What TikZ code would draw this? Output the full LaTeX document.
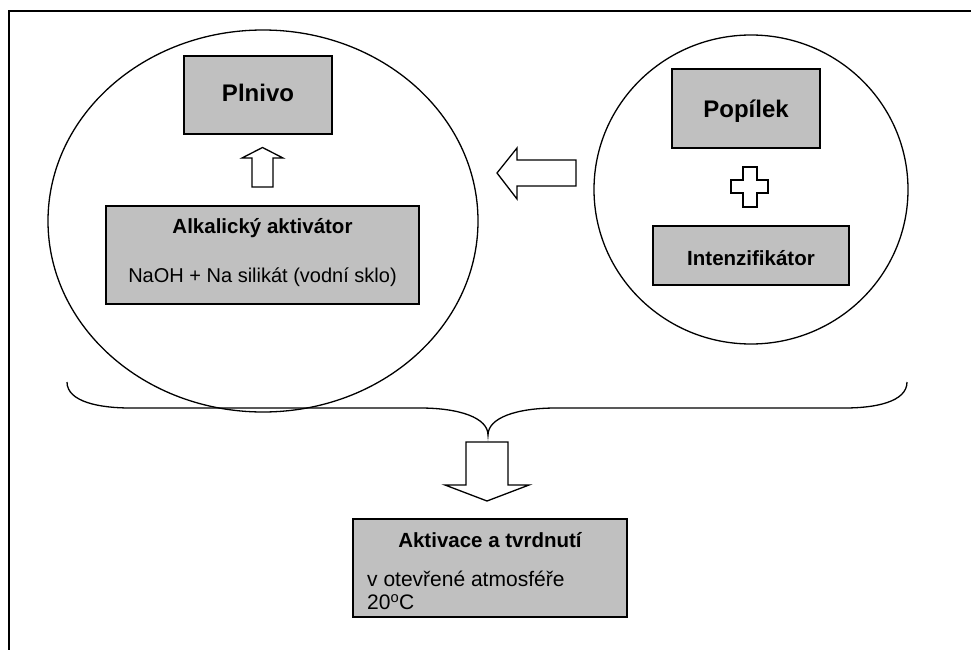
\documentclass[tikz,border=0pt]{standalone}
\usepackage{fontspec}
\setmainfont{Liberation Sans}
\usetikzlibrary{shapes.geometric}
\begin{document}
\begin{tikzpicture}[x=1pt,y=-1pt,
  box/.style={draw=black,line width=1.3pt,fill=boxgray,inner sep=0pt},
  outl/.style={draw=black,line width=1.3pt,fill=white,line join=miter},
  big/.style={font=\fontsize{24}{28}\selectfont\bfseries},
  mid/.style={font=\fontsize{20.5}{24}\selectfont\bfseries},
  reg/.style={font=\fontsize{21}{25}\selectfont}]
\definecolor{boxgray}{HTML}{C0C0C0}
\useasboundingbox (0,0) rectangle (971,650);
% frame (top and left only)
\coordinate (fl) at (9,650);
\coordinate (fc) at (9,11);
\coordinate (fr) at (971,11);
\draw[line width=2pt] (fl) -- (fc) -- (fr);
% ellipses
\node[draw,line width=1.3pt,ellipse,minimum width=430pt,minimum height=382pt,inner sep=0pt] (lell) at (263,221) {};
\node[draw,line width=1.3pt,ellipse,minimum width=314pt,minimum height=309pt,inner sep=0pt] (rell) at (751,189.5) {};
% boxes
\node[box,minimum width=148pt,minimum height=78pt] (plnivo) at (258,95) {};
\node[big] (plnivot) at (258,92.5) {Plnivo};
\node[box,minimum width=313pt,minimum height=98pt] (alk) at (262.5,255) {};
\node[mid] (alkt) at (262.5,228) {Alkalický aktivátor};
\node[reg,font=\fontsize{20}{24}\selectfont] (alks) at (262.5,277) {NaOH + Na silikát (vodní sklo)};
\node[box,minimum width=148pt,minimum height=79pt] (popilek) at (746,108.5) {};
\node[big,text depth=0pt] (popilekt) at (746,108.5) {Popílek};
\node[box,minimum width=196pt,minimum height=59pt] (intenz) at (751,255.5) {};
\node[mid,text depth=0pt] (intenzt) at (751,257.5) {Intenzifikátor};
\node[box,minimum width=274pt,minimum height=98pt] (akt) at (490,568) {};
\node[mid] (aktt) at (490,540) {Aktivace a tvrdnutí};
\node[reg,anchor=west,inner sep=0pt] (akts) at (367,579) {v otevřené atmosféře};
\node[reg,anchor=west,inner sep=0pt] (aktd) at (367,602) {20\textsuperscript{o}C};
% up arrow
\draw[outl] (252,187) -- (252,158) -- (242,158) -- (262.5,147.5) -- (283,158) -- (273,158) -- (273,187) -- cycle;
% left arrow
\draw[outl] (576,160) -- (517,160) -- (517,148) -- (497,173) -- (517,199) -- (517,186) -- (576,186) -- cycle;
% plus
\draw[outl] (743,167) -- (757,167) -- (757,180) -- (768,180) -- (768,193) -- (757,193) -- (757,207) -- (743,207) -- (743,193) -- (731,193) -- (731,180) -- (743,180) -- cycle;
% brace
\coordinate (bl) at (67,382);
\coordinate (bt) at (488,435);
\coordinate (br) at (907,382);
\draw[line width=1.3pt] (bl) .. controls (67,402) and (100,408) .. (130,408) -- (420,408)
  .. controls (460,408) and (488,418) .. (bt)
  .. controls (488,418) and (516,408) .. (556,408) -- (845,408)
  .. controls (875,408) and (907,402) .. (br);
% down arrow
\draw[outl] (466,442) -- (508,442) -- (508,485) -- (529,485) -- (487,501) -- (445,485) -- (466,485) -- cycle;
\end{tikzpicture}
\end{document}
